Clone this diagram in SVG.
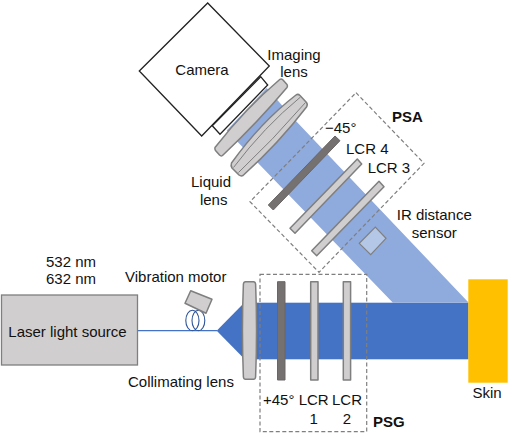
<svg xmlns="http://www.w3.org/2000/svg" width="509" height="434" viewBox="0 0 509 434">
<style>
text{font-family:"Liberation Sans",Arial,sans-serif;font-size:15px;fill:#111}
.m{text-anchor:middle}
.b{font-weight:bold}
.gl{fill:#d0cece;stroke:#7f7f7f;stroke-width:1.5;stroke-linejoin:round}
.pol{fill:#767171;stroke:#6a6666;stroke-width:1;stroke-linejoin:round}
.box{fill:#fff;stroke:#222;stroke-width:1.3}
.dash{fill:none;stroke:#7f7f7f;stroke-width:1.2;stroke-dasharray:4 2.5}
</style>
<g id="connectors">
<polygon id="psa-beam" fill="#8faadc" points="468.5,302.5 392.7,302.5 258,163 226.7,130.5 266.7,88 295,120"/>
<rect id="psg-beam" x="256" y="302.7" width="212.5" height="56.6" fill="#4472c4"/>
<polygon id="cone" fill="#4472c4" points="216.7,330.7 243,304 243,357.5"/>
<line id="fiber" x1="137" y1="330.7" x2="217" y2="330.7" stroke="#4472c4" stroke-width="1.3"/>
<ellipse cx="192.4" cy="320.5" rx="6.6" ry="10.2" fill="none" stroke="#2f5597" stroke-width="1.1"/>
<ellipse cx="198.4" cy="320.5" rx="6.4" ry="10.2" fill="none" stroke="#2f5597" stroke-width="1.1"/>
</g>
<g id="camera">
<polygon class="box" points="139.3,71 207.7,3 269.3,66 201.7,136"/>
<polygon class="box" points="212.3,125.7 220,134.3 267.7,85 260.7,76.7"/>
<text class="m" x="202" y="75">Camera</text>
</g>
<g id="imaging-lens">
<path class="gl" d="M215,147.5 Q246,108 280,79.3 Q281.5,78.5 283,80 L287,84.5 Q288,86 287,87.5 Q258,122 222.5,155.5 Q221,156.5 219.5,155 L215.5,150.5 Q214.5,149 215,147.5Z"/>
<text class="m" x="294" y="60">Imaging</text>
<text class="m" x="294" y="77">lens</text>
</g>
<g id="liquid-lens">
<path class="gl" d="M231.5,163 Q261,122 296,95 Q298,93.5 300,95.5 L306.5,102.5 Q308,104.5 306.5,107 Q279,143 243,175.5 Q241,176.5 239,175 L232,168 Q230.5,165.5 231.5,163Z"/>
<path d="M233.5,167.5 Q264,127 300.5,97 M238.5,172.5 Q273,140 305.5,102.5" fill="none" stroke="#7f7f7f" stroke-width="1"/>
<text class="m" x="211" y="186.7">Liquid</text>
<text class="m" x="213.7" y="205">lens</text>
</g>
<g id="psa">
<polygon class="dash" points="356,92.7 424,163.3 319,272.3 250,201.7"/>
<text class="b" x="392" y="121.7">PSA</text>
</g>
<g id="polarizer-minus45">
<polygon class="pol" points="268.3,205 273.3,210 340,140.7 335,136"/>
<text x="325" y="133">−45°</text>
</g>
<g id="lcr4">
<polygon class="gl" points="290,228.3 295,233.3 361.7,164 357.3,159"/>
<text x="346" y="154">LCR 4</text>
</g>
<g id="lcr3">
<polygon class="gl" points="311.7,250.7 316.7,255.7 384,186.7 379,181.3"/>
<text x="367.7" y="173.3">LCR 3</text>
</g>
<g id="ir-sensor">
<polygon fill="#b4c7e7" stroke="#7f7f7f" stroke-width="1.2" points="359.3,243.3 370.7,254.7 386,238.3 375.3,227"/>
<text class="m" x="434.3" y="220">IR distance</text>
<text class="m" x="434.3" y="238">sensor</text>
</g>
<g id="laser">
<rect x="1.5" y="295" width="136" height="70" fill="#d0cece" stroke="#7f7f7f" stroke-width="1.3"/>
<text class="m" x="67.5" y="336.5">Laser light source</text>
<text class="m" x="71" y="266.7">532 nm</text>
<text class="m" x="71" y="284.3">632 nm</text>
</g>
<g id="vibration-motor">
<polygon class="gl" points="190.7,290.7 212,299.3 206,313.3 185,303.3"/>
<text x="125" y="281.7">Vibration motor</text>
</g>
<g id="collimating-lens">
<path class="gl" d="M245.5,281.7 L253.5,281.7 Q255.3,281.7 255.6,284 Q257.5,330 255.6,377 Q255.3,379.3 253.5,379.3 L245.5,379.3 Q243.7,379.3 243.4,377 Q241.5,330 243.4,284 Q243.7,281.7 245.5,281.7Z"/>
<text x="128" y="386.7">Collimating lens</text>
</g>
<g id="psg">
<rect class="dash" x="260" y="274.3" width="106.7" height="157.4"/>
<text class="b" x="373" y="426.7">PSG</text>
</g>
<g id="polarizer-plus45">
<rect class="pol" x="277.5" y="281.7" width="7.5" height="98.3"/>
<text x="263" y="405">+45°</text>
</g>
<g id="lcr1">
<rect class="gl" x="310.7" y="281.7" width="7.3" height="98.3"/>
<text class="m" x="313.7" y="405">LCR</text>
<text class="m" x="313.7" y="424.3">1</text>
</g>
<g id="lcr2">
<rect class="gl" x="343.3" y="281.7" width="7.3" height="98.3"/>
<text class="m" x="347" y="405">LCR</text>
<text class="m" x="347" y="424.3">2</text>
</g>
<g id="skin">
<rect x="468.3" y="279.3" width="39.4" height="103.4" fill="#ffc000"/>
<text class="m" x="487" y="398">Skin</text>
</g>
</svg>
